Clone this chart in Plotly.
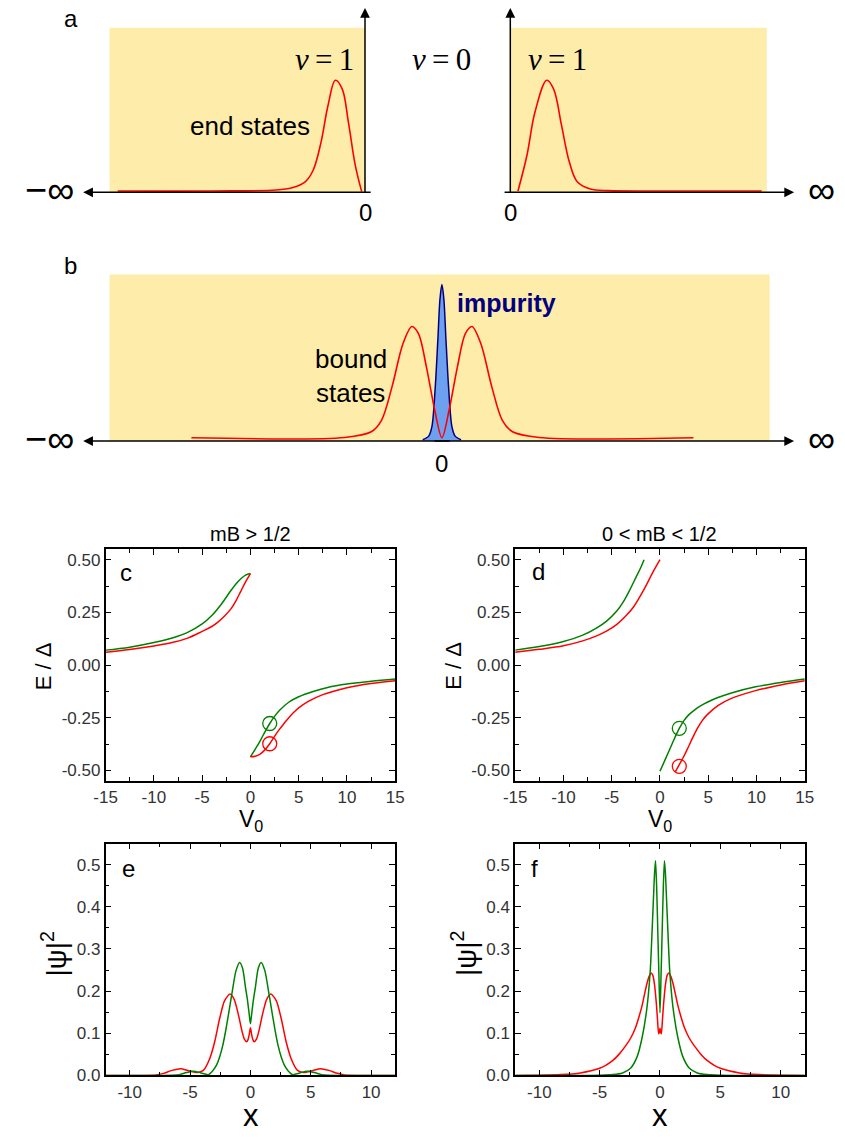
import plotly.graph_objects as go

W, H = 845, 1137
FONT = "Liberation Sans, Arial, sans-serif"
SERIF = "Liberation Serif, Times New Roman, serif"
GREEN = "#008000"
RED = "#ff0000"
YELLOW = "rgb(254,236,170)"

# ---------------- schematic data (panels a, b) ----------------
# a: end state at the left edge (position -> amplitude)
a_left_x = [-9.68, -6.0, -3.48, -2.86, -2.34, -2.03, -1.72, -1.45, -1.16, -0.89, -0.65, -0.38, -0.13]
a_left_y = [0.008, 0.008, 0.014, 0.028, 0.064, 0.134, 0.305, 0.526, 0.681, 0.627, 0.426, 0.164, 0.004]
# a: end state at the right edge
a_right_x = [0.30, 0.65, 0.96, 1.42, 1.69, 2.0, 2.3, 2.61, 3.12, 3.84, 6.0, 9.8]
a_right_y = [0.008, 0.225, 0.486, 0.681, 0.627, 0.405, 0.185, 0.064, 0.02, 0.01, 0.008, 0.008]
# b: bound states around the impurity
b_bound_x = [-7.59, -2.95, -2.14, -1.83, -1.51, -1.18, -0.91, -0.71, -0.47, -0.22, 0.0,
             0.22, 0.47, 0.71, 0.91, 1.18, 1.51, 1.83, 2.14, 2.95, 7.62]
b_bound_y = [0.02, 0.022, 0.056, 0.125, 0.327, 0.585, 0.688, 0.645, 0.446, 0.188, 0.02,
             0.188, 0.446, 0.645, 0.688, 0.585, 0.327, 0.125, 0.056, 0.022, 0.02]
# b: impurity profile
b_imp_x = [-0.58, -0.40, -0.30, -0.20, -0.12, -0.06, 0.0, 0.06, 0.12, 0.20, 0.30, 0.40, 0.58]
b_imp_y = [0.008, 0.03, 0.09, 0.33, 0.62, 0.85, 0.94, 0.85, 0.62, 0.33, 0.09, 0.03, 0.008]

# ---------------- E / Delta versus V0 (panels c, d) ----------------
c_up_green_v = [-15, -12.5, -10, -8, -6.5, -5, -4, -3, -2, -1.2, -0.5, 0]
c_up_green_e = [0.071, 0.085, 0.107, 0.130, 0.155, 0.195, 0.235, 0.29, 0.355, 0.40, 0.427, 0.434]
c_up_red_v = [-15, -12.5, -10, -8, -6.5, -5, -4, -3.4, -2.7, -2, -1.5, -1.0, -0.5, 0]
c_up_red_e = [0.061, 0.074, 0.091, 0.108, 0.128, 0.160, 0.183, 0.203, 0.232, 0.268, 0.305, 0.350, 0.395, 0.434]
c_lo_green_v = [0, 0.5, 1, 1.5, 2, 2.5, 3, 4, 5, 6.5, 8, 10, 12.5, 15]
c_lo_green_e = [-0.435, -0.398, -0.36, -0.317, -0.277, -0.243, -0.215, -0.175, -0.150, -0.125, -0.106,
                -0.090, -0.077, -0.066]
c_lo_red_v = [0, 0.5, 1, 1.5, 2, 2.5, 3, 3.5, 4, 4.5, 5, 6, 7.5, 10, 12.5, 15]
c_lo_red_e = [-0.435, -0.432, -0.422, -0.402, -0.373, -0.338, -0.305, -0.276, -0.248, -0.224, -0.203,
              -0.172, -0.140, -0.107, -0.087, -0.074]
c_mark_v = [2, 2]
c_mark_e = [-0.277, -0.373]

d_up_green_v = [-15, -12.5, -10, -8, -6.5, -5.5, -4.5, -3.8, -3.2, -2.5, -2.0, -1.65]
d_up_green_e = [0.071, 0.088, 0.112, 0.142, 0.178, 0.21, 0.255, 0.30, 0.350, 0.415, 0.462, 0.50]
d_up_red_v = [-15, -12.5, -10, -8, -6.5, -5.5, -4.5, -3.5, -2.8, -2.2, -1.5, -0.8, 0]
d_up_red_e = [0.061, 0.075, 0.092, 0.115, 0.140, 0.162, 0.192, 0.235, 0.272, 0.315, 0.372, 0.435, 0.50]
d_lo_green_v = [0, 0.5, 1, 1.5, 2, 2.5, 3, 3.6, 4.2, 4.9, 6, 7.4, 9.9, 12.5, 15]
d_lo_green_e = [-0.503, -0.452, -0.40, -0.348, -0.30, -0.262, -0.235, -0.212, -0.193, -0.176, -0.154,
                -0.132, -0.103, -0.082, -0.066]
d_lo_red_v = [1.6, 2, 2.5, 2.9, 3.4, 3.9, 4.4, 4.9, 6, 7.4, 9.9, 12.5, 15]
d_lo_red_e = [-0.505, -0.472, -0.43, -0.392, -0.343, -0.298, -0.262, -0.235, -0.192, -0.158, -0.121,
              -0.094, -0.074]
d_mark_v = [2, 2]
d_mark_e = [-0.30, -0.48]

# ---------------- |psi|^2 versus x (panels e, f) ----------------
e_green_x = [-12, -8, -6.5, -5.9, -5.3, -4.7, -4.1, -3.5, -3.1, -2.8, -2.56, -2.3, -2.05, -1.8, -1.5,
             -1.2, -0.89, -0.65, -0.4, -0.25, -0.1, 0, 0.1, 0.25, 0.4, 0.65, 0.89, 1.2, 1.5, 1.8,
             2.05, 2.3, 2.56, 2.8, 3.1, 3.5, 4.1, 4.7, 5.3, 5.9, 6.5, 8, 12]
e_green_y = [0, 0, 0.0005, 0.002, 0.007, 0.010, 0.006, 0.002, 0.012, 0.025, 0.043, 0.07, 0.106, 0.148, 0.20,
             0.248, 0.268, 0.254, 0.207, 0.18, 0.145, 0.123, 0.145, 0.18, 0.207, 0.254, 0.268, 0.248, 0.20, 0.148,
             0.106, 0.07, 0.043, 0.025, 0.012, 0.002, 0.006, 0.010, 0.007, 0.002, 0.0005, 0, 0]
e_red_x = [-12, -9, -7.8, -7.2, -6.5, -5.8, -5.1, -4.4, -3.9, -3.36, -2.96, -2.55, -2.15, -1.69, -1.34,
           -1.15, -0.94, -0.7, -0.5, -0.32, -0.2, -0.1, 0, 0.1, 0.2, 0.32, 0.5, 0.7, 0.94, 1.15,
           1.34, 1.69, 2.15, 2.55, 2.96, 3.36, 3.9, 4.4, 5.1, 5.8, 6.5, 7.2, 7.8, 9, 12]
e_red_y = [0, 0, 0.001, 0.005, 0.012, 0.016, 0.011, 0.007, 0.012, 0.041, 0.08, 0.135, 0.177, 0.193, 0.18,
           0.162, 0.137, 0.105, 0.086, 0.08, 0.085, 0.097, 0.113, 0.097, 0.085, 0.08, 0.086, 0.105, 0.137, 0.162,
           0.18, 0.193, 0.177, 0.135, 0.08, 0.041, 0.012, 0.007, 0.011, 0.016, 0.012, 0.005, 0.001, 0, 0]

f_green_x = [-12, -5, -3.9, -3.1, -2.44, -1.9, -1.48, -1.08, -0.81, -0.68, -0.54, -0.45, -0.37, -0.28, -0.18,
             -0.09, 0, 0.09, 0.18, 0.28, 0.37, 0.45, 0.54, 0.68, 0.81, 1.08, 1.48, 1.9, 2.44, 3.1, 3.9, 5, 12]
f_green_y = [0, 0.0005, 0.002, 0.006, 0.017, 0.044, 0.09, 0.161, 0.247, 0.325, 0.42, 0.48, 0.509, 0.45, 0.34,
             0.24, 0.149, 0.24, 0.34, 0.45, 0.509, 0.48, 0.42, 0.325, 0.247, 0.161, 0.09, 0.044, 0.017, 0.006, 0.002, 0.0005, 0]
f_red_x = [-12, -10.3, -8.2, -6.6, -5.0, -4.5, -3.93, -3.4, -2.85, -2.4, -2.03, -1.75, -1.49, -1.3, -1.08,
           -0.9, -0.73, -0.6, -0.45, -0.3, -0.2, -0.11, -0.05, 0, 0.05, 0.11, 0.2, 0.3, 0.45, 0.6, 0.73,
           0.9, 1.08, 1.3, 1.49, 1.75, 2.03, 2.4, 2.85, 3.4, 3.93, 4.5, 5.0, 6.6, 8.2, 10.3, 12]
f_red_y = [0, 0.0005, 0.002, 0.006, 0.017, 0.024, 0.035, 0.05, 0.07, 0.09, 0.113, 0.138, 0.165, 0.19, 0.218,
           0.235, 0.243, 0.238, 0.215, 0.17, 0.13, 0.099, 0.103, 0.112, 0.103, 0.099, 0.13, 0.17, 0.215, 0.238, 0.243,
           0.235, 0.218, 0.19, 0.165, 0.138, 0.113, 0.09, 0.07, 0.05, 0.035, 0.024, 0.017, 0.006, 0.002, 0.0005, 0]

# tick labels
v_ticks = [-15, -10, -5, 0, 5, 10, 15]
v_labels = ["-15", "-10", "-5", "0", "5", "10", "15"]
e_ticks = [-0.5, -0.25, 0, 0.25, 0.5]
e_labels = ["-0.50", "-0.25", "0.00", "0.25", "0.50"]
x_ticks = [-10, -5, 0, 5, 10]
x_labels = ["-10", "-5", "0", "5", "10"]
p_ticks = [0, 0.1, 0.2, 0.3, 0.4, 0.5]
p_labels = ["0.0", "0.1", "0.2", "0.3", "0.4", "0.5"]


def px(x):
    return x / W


def py(y):
    return 1 - y / H


fig = go.Figure()


def line(xs, ys, color, ax, width=1.5, smooth=1.0):
    fig.add_trace(go.Scatter(x=xs, y=ys, mode="lines", xaxis="x" + ax, yaxis="y" + ax,
                             line=dict(color=color, width=width, shape="spline", smoothing=smooth),
                             hoverinfo="skip", showlegend=False))


# panel a
line(a_left_x, a_left_y, RED, "5", 1.6, 1.0)
line(a_right_x, a_right_y, RED, "6", 1.6, 1.0)
# panel b
fig.add_trace(go.Scatter(x=b_imp_x, y=b_imp_y, mode="lines", xaxis="x7", yaxis="y7", fill="tozeroy",
                         fillcolor="rgb(110,160,240)",
                         line=dict(color="#000080", width=1.5, shape="spline", smoothing=0.8),
                         hoverinfo="skip", showlegend=False))
line(b_bound_x, b_bound_y, RED, "7", 1.6, 0.9)

# panel c
line(c_up_green_v, c_up_green_e, GREEN, "")
line(c_up_red_v, c_up_red_e, RED, "")
line(c_lo_green_v, c_lo_green_e, GREEN, "")
line(c_lo_red_v, c_lo_red_e, RED, "")
# panel d
line(d_up_green_v, d_up_green_e, GREEN, "2")
line(d_up_red_v, d_up_red_e, RED, "2")
line(d_lo_green_v, d_lo_green_e, GREEN, "2")
line(d_lo_red_v, d_lo_red_e, RED, "2")
for mv, me, ax in ((c_mark_v, c_mark_e, ""), (d_mark_v, d_mark_e, "2")):
    fig.add_trace(go.Scatter(x=mv, y=me, mode="markers", xaxis="x" + ax, yaxis="y" + ax,
                             marker=dict(symbol="circle-open", size=14, color=[GREEN, RED],
                                         line=dict(width=1.3, color=[GREEN, RED])),
                             hoverinfo="skip", showlegend=False))
# panel e
line(e_red_x, e_red_y, RED, "3", 1.5, 0.7)
line(e_green_x, e_green_y, GREEN, "3", 1.5, 0.7)
# panel f
line(f_red_x, f_red_y, RED, "4", 1.5, 0.7)
line(f_green_x, f_green_y, GREEN, "4", 1.5, 0.7)

frame = dict(showline=True, linecolor="black", linewidth=1.6, mirror="allticks", ticks="inside",
             ticklen=6, tickwidth=1.3, tickcolor="black", showgrid=False, zeroline=False,
             tickfont=dict(family=FONT, size=17, color="#333333"), tickmode="array")


def minor(d):
    return dict(ticks="inside", ticklen=4, tickwidth=1.3, tickcolor="black", tickmode="linear",
                tick0=0, dtick=d, showgrid=False)


xc = [px(96), px(393)]
xd = [px(516), px(813)]
y_top = [py(788), py(554)]
y_bot = [py(1085), py(851)]

layout = dict(
    width=W, height=H, margin=dict(l=0, r=0, t=0, b=0),
    paper_bgcolor="white", plot_bgcolor="white", showlegend=False,
    font=dict(family=FONT, color="black"),
    xaxis=dict(frame, domain=xc, anchor="y", range=[-15, 15], tickvals=v_ticks, ticktext=v_labels, minor=minor(2.5)),
    yaxis=dict(frame, domain=y_top, anchor="x", range=[-0.55, 0.55], tickvals=e_ticks, ticktext=e_labels, minor=minor(0.125)),
    xaxis2=dict(frame, domain=xd, anchor="y2", range=[-15, 15], tickvals=v_ticks, ticktext=v_labels, minor=minor(2.5)),
    yaxis2=dict(frame, domain=y_top, anchor="x2", range=[-0.55, 0.55], tickvals=e_ticks, ticktext=e_labels, minor=minor(0.125)),
    xaxis3=dict(frame, domain=xc, anchor="y3", range=[-12, 12], tickvals=x_ticks, ticktext=x_labels, minor=minor(2.5)),
    yaxis3=dict(frame, domain=y_bot, anchor="x3", range=[0, 0.55], tickvals=p_ticks, ticktext=p_labels, minor=minor(0.05)),
    xaxis4=dict(frame, domain=xd, anchor="y4", range=[-12, 12], tickvals=x_ticks, ticktext=x_labels, minor=minor(2.5)),
    yaxis4=dict(frame, domain=y_bot, anchor="x4", range=[0, 0.55], tickvals=p_ticks, ticktext=p_labels, minor=minor(0.05)),
)
hidden = dict(visible=False, showgrid=False, zeroline=False, fixedrange=True)
layout["xaxis5"] = dict(hidden, domain=[px(100), px(362)], anchor="y5", range=[-10, 0])
layout["yaxis5"] = dict(hidden, domain=[py(194), py(28)], anchor="x5", range=[0, 1])
layout["xaxis6"] = dict(hidden, domain=[px(511), px(774)], anchor="y6", range=[0, 10])
layout["yaxis6"] = dict(hidden, domain=[py(194), py(28)], anchor="x6", range=[0, 1])
layout["xaxis7"] = dict(hidden, domain=[px(100), px(777)], anchor="y7", range=[-10.07, 9.93])
layout["yaxis7"] = dict(hidden, domain=[py(445), py(277)], anchor="x7", range=[0, 1])

shapes = []
for a in ("5", "6", "7"):
    shapes.append(dict(type="rect", xref="x%s domain" % a, yref="y%s domain" % a, x0=0, x1=1, y0=0, y1=1,
                       fillcolor=YELLOW, line=dict(width=0), layer="below"))
layout["shapes"] = shapes

ann = []


def text(x, y, s, size, family=FONT, color="black", angle=0, xanchor="center"):
    ann.append(dict(x=px(x), y=py(y), xref="paper", yref="paper", text=s, showarrow=False,
                    font=dict(family=family, size=size, color=color), textangle=angle,
                    xanchor=xanchor, yanchor="middle"))


def arrow(tip, tail):
    ann.append(dict(x=px(tip[0]), y=py(tip[1]), xref="paper", yref="paper", text="",
                    showarrow=True, ax=tail[0] - tip[0], ay=tail[1] - tip[1], axref="pixel", ayref="pixel",
                    arrowhead=2, arrowsize=1.3, arrowwidth=1.5, arrowcolor="black", standoff=0))


# panel a decorations
arrow((73, 194), (362, 194))
arrow((362, 8), (362, 194))
arrow((511, 8), (511, 194))
arrow((802, 194), (511, 194))
text(61, 19, "a", 24)
text(38, 192, "\u2212\u221e", 38)
text(830, 192, "\u221e", 38)
text(362, 214, "0", 24)
text(511, 214, "0", 24)
text(320, 60, "<i>\u03bd</i>\u2009=\u20091", 31, SERIF)
text(440, 60, "<i>\u03bd</i>\u2009=\u20090", 31, SERIF)
text(559, 60, "<i>\u03bd</i>\u2009=\u20091", 31, SERIF)
text(244, 127, "end states", 26)

# panel b decorations
arrow((73, 445), (441, 445))
arrow((802, 445), (441, 445))
text(60, 268, "b", 24)
text(38, 443, "\u2212\u221e", 38)
text(830, 443, "\u221e", 38)
text(440, 468, "0", 24)
text(454, 306, "<b>impurity</b>", 25, color="#000080", xanchor="left")
text(348, 362, "bound", 26)
text(347, 396, "states", 26)

# panels c-f labels
text(244.5, 539, "mB > 1/2", 20)
text(664.5, 539, "0 < mB < 1/2", 20)
text(117, 578, "c", 24)
text(540, 577, "d", 24)
text(119, 876, "e", 24)
text(536, 876, "f", 24)
for xx in (32, 452):
    text(xx, 672, "E / \u0394", 22, angle=-90)
for xx in (245, 665):
    text(xx, 828, "V<sub>0</sub>", 23)
    text(xx, 1125, "x", 31)
for xx in (43, 463):
    text(xx, 962, "|\u03c8|<sup>2</sup>", 28, angle=-90)

layout["annotations"] = ann
fig.update_layout(layout)
fig.write_html("out.html")
